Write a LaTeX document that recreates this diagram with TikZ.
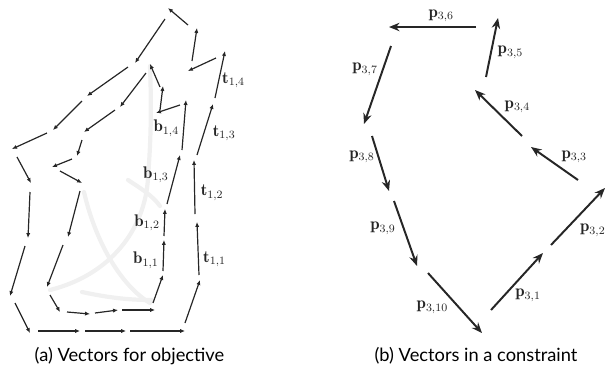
\documentclass[tikz,border=0pt]{standalone}
\usepackage{amsmath}
\usepackage{fontspec}
\newfontfamily\capfont{Lato}
\usepackage{tikz}
\usetikzlibrary{arrows.meta}

\begin{document}
\begin{tikzpicture}[
  x=0.025cm, y=-0.025cm,
  vec/.style    = {-{Latex[length=3.5pt,width=3pt]}, line width=0.85pt, black!85},
  pvec/.style   = {-{Stealth[length=7.5pt,width=6pt]}, line width=1.4pt, black!85},
  lbl/.style    = {font=\fontsize{12}{14}\selectfont, inner sep=1pt},
  bg/.style     = {gray!12, line width=3pt, line cap=round},
  captxt/.style = {font=\capfont\fontsize{13}{15}\selectfont},
]
\useasboundingbox (0,0) rectangle (607,371);

%% --- faint background ---
\draw[bg] (150,66) .. controls (152,120) and (150,150) .. (148,178)
          .. controls (145,230) and (110,275) .. (50,290);
\draw[bg] (84,192) .. controls (95,240) and (120,285) .. (150,303);
\draw[bg] (128,180) .. controls (140,188) and (152,195) .. (160,206);
\draw[bg] (82,292) .. controls (110,298) and (130,300) .. (152,300);

%% --- (a) outer chain ---
\foreach \tx/\ty/\hx/\hy [count=\i] in
  {188/25/168/8, 165/19/135/63, 128/67/87/96, 82/101/53/130,
   47/133/12/149, 17/157/31/183, 30/192/28/238, 25/246/10/296,
   15/303/30/333, 38/331/80/331, 85/331/126/331, 130/331/185/331,
   185/323/200/280, 216/58/188/71, 192/61/197/28}
{
  \coordinate (ot\i) at (\tx,\ty);
  \coordinate (oh\i) at (\hx,\hy);
  \draw[vec] (ot\i) -- (oh\i);
}

%% --- (a) inner chain ---
\foreach \tx/\ty/\hx/\hy [count=\i] in
  {160/87/150/64, 146/73/120/107, 115/110/84/132, 82/140/77/156,
   72/159/52/167, 60/171/82/183, 80/191/68/237, 63/245/47/287,
   50/295/60/312, 67/312/90/314, 95/313/118/310, 122/310/155/310,
   153/303/163/275, 180/105/156/113, 160/110/163/86}
{
  \coordinate (it\i) at (\tx,\ty);
  \coordinate (ih\i) at (\hx,\hy);
  \draw[vec] (it\i) -- (ih\i);
}

%% --- (a) labelled vectors ---
\coordinate (bt1) at (163,271); \coordinate (bh1) at (164,240);
\coordinate (bt2) at (164,236); \coordinate (bh2) at (165,209);
\coordinate (bt3) at (167,204); \coordinate (bh3) at (180,155);
\coordinate (bt4) at (182,150); \coordinate (bh4) at (186,100);
\coordinate (tt1) at (199,275); \coordinate (th1) at (197,222);
\coordinate (tt2) at (195,214); \coordinate (th2) at (194,160);
\coordinate (tt3) at (197,155); \coordinate (th3) at (213,104);
\coordinate (tt4) at (215,98);  \coordinate (th4) at (225,51);

\draw[vec] (bt1) -- node[pos=0.35, left=2pt, lbl] {$\mathbf{b}_{1,1}$} (bh1);
\draw[vec] (bt2) -- node[pos=0.5,  left=2pt, lbl] {$\mathbf{b}_{1,2}$} (bh2);
\draw[vec] (bt3) -- node[pos=0.6,  left=3pt, lbl] {$\mathbf{b}_{1,3}$} (bh3);
\draw[vec] (bt4) -- node[pos=0.44, left=2pt, lbl] {$\mathbf{b}_{1,4}$} (bh4);
\draw[vec] (tt1) -- node[pos=0.3,  right=2pt, lbl] {$\mathbf{t}_{1,1}$} (th1);
\draw[vec] (tt2) -- node[pos=0.39, right=3pt, lbl] {$\mathbf{t}_{1,2}$} (th2);
\draw[vec] (tt3) -- node[pos=0.43, right=5pt, lbl] {$\mathbf{t}_{1,3}$} (th3);
\draw[vec] (tt4) -- node[pos=0.38, right=1pt, lbl] {$\mathbf{t}_{1,4}$} (th4);

%% --- (b) constraint vectors ---
\coordinate (pt1)  at (491,310); \coordinate (ph1)  at (543,253);
\coordinate (pt2)  at (551,245); \coordinate (ph2)  at (605,188);
\coordinate (pt3)  at (578,180); \coordinate (ph3)  at (531,147);
\coordinate (pt4)  at (522,136); \coordinate (ph4)  at (475,90);
\coordinate (pt5)  at (486,77);  \coordinate (ph5)  at (498,18);
\coordinate (pt6)  at (476,27);  \coordinate (ph6)  at (389,27);
\coordinate (pt7)  at (391,46);  \coordinate (ph7)  at (364,124);
\coordinate (pt8)  at (372,136); \coordinate (ph8)  at (389,191);
\coordinate (pt9)  at (394,201); \coordinate (ph9)  at (417,266);
\coordinate (pt10) at (428,273); \coordinate (ph10) at (482,333);

\draw[pvec] (pt1)  -- node[pos=0.26, right=6pt,  lbl] {$\mathbf{p}_{3,1}$}  (ph1);
\draw[pvec] (pt2)  -- node[pos=0.26, right=9pt,  lbl] {$\mathbf{p}_{3,2}$}  (ph2);
\draw[pvec] (pt3)  -- node[pos=0.7,  right=10pt, lbl] {$\mathbf{p}_{3,3}$}  (ph3);
\draw[pvec] (pt4)  -- node[pos=0.63, right=7pt,  lbl] {$\mathbf{p}_{3,4}$}  (ph4);
\draw[pvec] (pt5)  -- node[pos=0.42, right=3pt,  lbl] {$\mathbf{p}_{3,5}$}  (ph5);
\draw[pvec] (pt6)  -- node[pos=0.4,  above=2pt,  lbl] {$\mathbf{p}_{3,6}$}  (ph6);
\draw[pvec] (pt7)  -- node[pos=0.3,  left=2pt,   lbl] {$\mathbf{p}_{3,7}$}  (ph7);
\draw[pvec] (pt8)  -- node[pos=0.38, left=1pt,   lbl] {$\mathbf{p}_{3,8}$}  (ph8);
\draw[pvec] (pt9)  -- node[pos=0.42, left=4pt,   lbl] {$\mathbf{p}_{3,9}$}  (ph9);
\draw[pvec] (pt10) -- node[pos=0.57, left=6pt,   lbl] {$\mathbf{p}_{3,10}$} (ph10);

%% --- captions ---
\node[captxt] (capa) at (129.5,356) {(a) Vectors for objective};
\node[captxt] (capb) at (476,356)   {(b) Vectors in a constraint};

\end{tikzpicture}
\end{document}
